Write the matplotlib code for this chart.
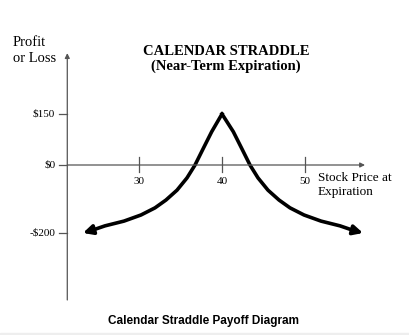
import matplotlib
matplotlib.use("Agg")
import matplotlib.pyplot as plt
from matplotlib.patches import Rectangle

# payoff curve (stock price, profit)
left_price = [23.25, 24.46, 25.9, 28.19, 30.24, 31.93, 33.25, 34.58, 35.78, 36.75, 37.75, 38.76, 40.0]
left_pl = [-200, -191, -179, -165, -147, -126, -103, -74, -38, 0, 49, 98, 150]
right_price = [40.0, 41.36, 42.37, 43.37, 44.34, 45.54, 46.87, 48.19, 49.88, 51.93, 54.22, 55.66, 56.99]
right_pl = [150, 98, 49, 0, -38, -74, -103, -126, -147, -165, -179, -191, -200]

x_ticks = [30, 40, 50]
x_tick_labels = ["30", "40", "50"]
y_ticks = [150, 0, -200]
y_tick_labels = ["$150", "$0", "-$200"]

W, H = 409, 335
fig = plt.figure(figsize=(W / 100, H / 100), dpi=100)
ax = fig.add_axes([0, 0, 1, 1])
ax.set_xlim(13.253, 62.53)
ax.set_ylim(-500, 485.3)
ax.axis("off")

def fpx(x, y):
    # pixel (from top left) -> figure fraction
    return x / W, 1 - y / H

serif = "Liberation Serif"
axcol = "#555555"

# axes with arrow heads
x0, x1 = 21.36, 57.23
ax.annotate("", xy=(21.36, 329), xytext=(21.36, -397),
            arrowprops=dict(arrowstyle="-|>", color=axcol, lw=0.9, mutation_scale=7, shrinkA=0, shrinkB=0))
ax.annotate("", xy=(x1, 0), xytext=(x0, 0),
            arrowprops=dict(arrowstyle="-|>", color=axcol, lw=0.9, mutation_scale=7, shrinkA=0, shrinkB=0))

for v, lab in zip(y_ticks, y_tick_labels):
    ax.plot([20.4, x0], [v, v], color=axcol, lw=0.9)
    ax.text(19.9, v, lab, ha="right", va="center", fontsize=8, family=serif)
for v, lab in zip(x_ticks, x_tick_labels):
    ax.plot([v, v], [24, -21], color=axcol, lw=0.9)
    ax.text(v, -48, lab, ha="center", va="center", fontsize=8, family=serif)

# payoff curve with arrow ends
ax.plot(left_price[1:], left_pl[1:], color="black", lw=2.6, solid_joinstyle="round")
ax.plot(right_price[:-1], right_pl[:-1], color="black", lw=2.6, solid_joinstyle="round")
ax.annotate("", xy=(left_price[0], left_pl[0]), xytext=(left_price[1], left_pl[1]),
            arrowprops=dict(arrowstyle="-|>", color="black", lw=2.6, mutation_scale=14, shrinkA=0, shrinkB=0))
ax.annotate("", xy=(right_price[-1], right_pl[-1]), xytext=(right_price[-2], right_pl[-2]),
            arrowprops=dict(arrowstyle="-|>", color="black", lw=2.6, mutation_scale=14, shrinkA=0, shrinkB=0))

fig.text(*fpx(13, 51), "Profit\nor Loss", ha="left", va="center", fontsize=10.5,
         family=serif, linespacing=1.3)
fig.text(*fpx(226, 59), "CALENDAR STRADDLE\n(Near-Term Expiration)", ha="center", va="center",
         fontsize=10.5, family=serif, fontweight="bold", linespacing=1.2)
fig.text(*fpx(318, 185), "Stock Price at\nExpiration", ha="left", va="center", fontsize=9.5,
         family=serif, linespacing=1.2)
fig.text(*fpx(204, 321), "Calendar Straddle Payoff Diagram", ha="center", va="center",
         fontsize=8.5, family="Liberation Sans", fontweight="bold")

fig.patches.append(Rectangle((0, 0), 1, 2 / H, transform=fig.transFigure, color="#eeeeee", zorder=0))

fig.savefig("out.png", dpi=100)
